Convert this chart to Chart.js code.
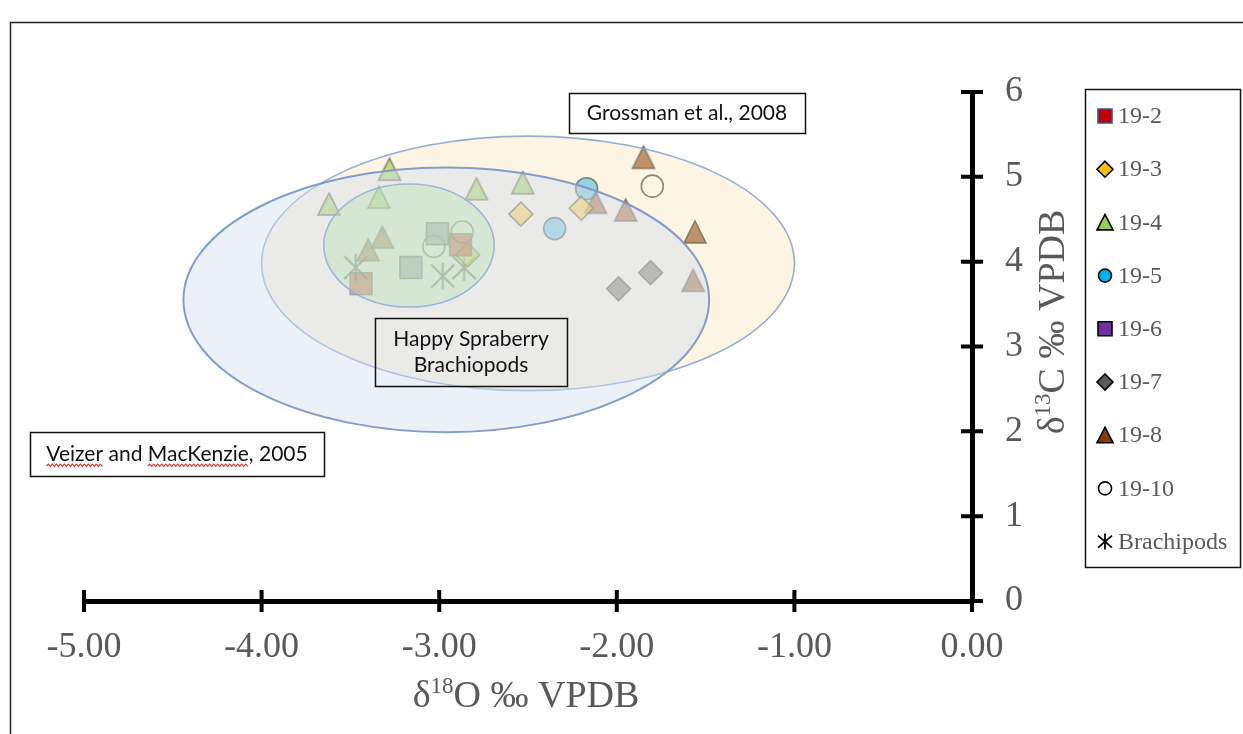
<!DOCTYPE html>
<html>
<head>
<meta charset="utf-8">
<script src="https://cdn.jsdelivr.net/npm/chart.js@4.4.0/dist/chart.umd.min.js"></script>
<style>
  html, body { margin: 0; padding: 0; background: #ffffff; }
  #wrap { width: 1243px; height: 734px; position: relative; }
</style>
</head>
<body>
<div id="wrap"><canvas id="chart" width="1243" height="734"></canvas></div>
<script>
// ---- sample values: δ18O and δ13C (‰ VPDB) per series ----
const o18_19_2 = [-3.44, -2.88];
const c13_19_2 = [3.74, 4.20];
const o18_19_3 = [-2.54, -2.20, -2.84];
const c13_19_3 = [4.56, 4.63, 4.08];
const o18_19_4 = [-3.28, -3.62, -3.34, -2.79, -2.53];
const c13_19_4 = [5.09, 4.68, 4.76, 4.86, 4.93];
const o18_19_5 = [-2.17, -2.35];
const c13_19_5 = [4.86, 4.39];
const o18_19_6 = [-3.01, -3.16];
const c13_19_6 = [4.33, 3.93];
const o18_19_7 = [-1.99, -1.81];
const c13_19_7 = [3.68, 3.87];
const o18_19_8 = [-1.85, -1.56, -2.12, -1.95, -1.57, -3.32, -3.40];
const c13_19_8 = [5.23, 4.35, 4.70, 4.61, 3.78, 4.29, 4.14];
const o18_19_10 = [-1.80, -2.87, -3.03];
const c13_19_10 = [4.89, 4.35, 4.18];
const o18_brach = [-3.47, -2.98, -2.86];
const c13_brach = [3.93, 3.83, 3.93];

const seriesLabels = ['19-2', '19-3', '19-4', '19-5', '19-6', '19-7', '19-8', '19-10', 'Brachipods'];
const seriesO18 = [o18_19_2, o18_19_3, o18_19_4, o18_19_5, o18_19_6, o18_19_7, o18_19_8, o18_19_10, o18_brach];
const seriesC13 = [c13_19_2, c13_19_3, c13_19_4, c13_19_5, c13_19_6, c13_19_7, c13_19_8, c13_19_10, c13_brach];

// axis ranges / ticks
const xTicks = [-5, -4, -3, -2, -1, 0];
const yTicks = [0, 1, 2, 3, 4, 5, 6];

// reference fields (ellipses): centre and half-axes in ‰, drawn in this order
const fieldNames = ['Grossman et al., 2008', 'Veizer and MacKenzie, 2005', 'Happy Spraberry Brachiopods'];
const fieldCenterO = [-2.50, -2.96, -3.17];
const fieldCenterC = [3.98, 3.55, 4.19];
const fieldHalfO = [1.50, 1.48, 0.48];
const fieldHalfC = [1.50, 1.56, 0.725];

// ---- styling ----
const SERIF = '"Liberation Serif", "Times New Roman", serif';
const SANS = 'Lato, "Open Sans", sans-serif';
const AXIS_TEXT = '#595959';

const markerKind = ['square', 'diamond', 'triangle', 'circle', 'square', 'diamond', 'triangle', 'circle', 'asterisk'];
const legendFill = ['#c00000', '#ffc000', '#92d050', '#00b0f0', '#7030a0', '#595959', '#843c0c', '#ffffff', '#000000'];
const legendStroke = ['#2f5597', '#000', '#000', '#000', '#000', '#000', '#000', '#000', '#000'];
const plotFill = ['rgba(192,0,0,0.7)', 'rgba(255,192,0,0.6)', 'rgba(146,208,80,0.75)', 'rgba(0,176,240,0.55)',
                  'rgba(120,112,150,0.7)', 'rgba(89,89,89,0.7)', 'rgba(132,60,12,0.68)', 'rgba(255,255,255,0)', 'rgba(0,0,0,0)'];
const plotStroke = 'rgba(60,60,60,0.75)';

const fieldFill = ['rgba(243,215,147,0.25)', 'rgba(212,225,240,0.45)', 'rgba(182,226,178,0.40)'];
const fieldStroke = ['rgba(140,165,205,0.9)', 'rgba(125,152,196,0.95)', 'rgba(150,176,215,0.9)'];

function triangleImage(fill, stroke, s) {
  const pad = 2, c = document.createElement('canvas');
  c.width = s + pad * 2; c.height = s + pad * 2;
  const g = c.getContext('2d');
  g.beginPath();
  g.moveTo(pad + s / 2, pad);
  g.lineTo(pad + s, pad + s);
  g.lineTo(pad, pad + s);
  g.closePath();
  g.fillStyle = fill; g.fill();
  g.lineWidth = 1.6; g.strokeStyle = stroke; g.stroke();
  return c;
}
function asteriskImage(stroke, w, h, lw) {
  const c = document.createElement('canvas');
  c.width = w + 2; c.height = h + 2;
  const g = c.getContext('2d');
  g.strokeStyle = stroke; g.lineWidth = lw; g.lineCap = 'butt';
  const inset = (h - w) / 2;
  g.beginPath();
  g.moveTo(1, 1 + inset); g.lineTo(1 + w, 1 + inset + w);
  g.moveTo(1 + w, 1 + inset); g.lineTo(1, 1 + inset + w);
  g.moveTo(1 + w / 2, 1); g.lineTo(1 + w / 2, 1 + h);
  g.stroke();
  return c;
}

function pointStyleFor(i) {
  switch (markerKind[i]) {
    case 'square': return { style: 'rect', r: 15.5 };
    case 'diamond': return { style: 'rectRot', r: 12 };
    case 'circle': return { style: 'circle', r: 11 };
    case 'triangle': return { style: triangleImage(plotFill[i], plotStroke, 22), r: 12 };
    default: return { style: asteriskImage('rgba(40,40,40,0.8)', 23, 27, 2), r: 12 };
  }
}

const datasets = seriesLabels.map((label, i) => {
  const ps = pointStyleFor(i);
  return {
    label,
    data: seriesO18[i].map((o, k) => ({ x: o, y: seriesC13[i][k] })),
    pointStyle: ps.style,
    pointRadius: ps.r,
    pointHoverRadius: ps.r,
    backgroundColor: plotFill[i],
    borderColor: plotStroke,
    borderWidth: 1.6,
    showLine: false
  };
});

// ---- drawing helpers for the overlay ----
function drawLegendMarker(ctx, i, x, y) {
  ctx.save();
  ctx.fillStyle = legendFill[i];
  ctx.strokeStyle = legendStroke[i];
  ctx.lineWidth = 1.6;
  ctx.beginPath();
  switch (markerKind[i]) {
    case 'square': ctx.rect(x - 7, y - 7, 14, 14); break;
    case 'diamond': ctx.moveTo(x, y - 8); ctx.lineTo(x + 8, y); ctx.lineTo(x, y + 8); ctx.lineTo(x - 8, y); ctx.closePath(); break;
    case 'triangle': ctx.moveTo(x, y - 8); ctx.lineTo(x + 8, y + 7.5); ctx.lineTo(x - 8, y + 7.5); ctx.closePath(); break;
    case 'circle': ctx.arc(x, y, 6.5, 0, Math.PI * 2); break;
    default:
      ctx.moveTo(x - 7, y - 6); ctx.lineTo(x + 7, y + 6);
      ctx.moveTo(x + 7, y - 6); ctx.lineTo(x - 7, y + 6);
      ctx.moveTo(x, y - 8); ctx.lineTo(x, y + 8);
      ctx.lineWidth = 1.8; ctx.stroke(); ctx.restore(); return;
  }
  ctx.fill(); ctx.stroke();
  ctx.restore();
}

function drawIsotopeTitle(ctx, cx, cy, angle, sup, rest) {
  const big = '38px ' + SERIF, small = '23px ' + SERIF;
  ctx.save();
  ctx.translate(cx, cy); ctx.rotate(angle);
  ctx.fillStyle = AXIS_TEXT; ctx.textBaseline = 'alphabetic'; ctx.textAlign = 'left';
  ctx.font = big; const w1 = ctx.measureText('δ').width; const w3 = ctx.measureText(rest).width;
  ctx.font = small; const w2 = ctx.measureText(sup).width;
  let x0 = -(w1 + w2 + w3) / 2;
  const base = 13;
  ctx.font = big; ctx.fillText('δ', x0, base); x0 += w1;
  ctx.font = small; ctx.fillText(sup, x0, base - 14); x0 += w2;
  ctx.font = big; ctx.fillText(rest, x0, base);
  ctx.restore();
}

function squiggle(ctx, x0, x1, y) {
  ctx.save();
  ctx.strokeStyle = '#e8332a'; ctx.lineWidth = 1.2;
  ctx.beginPath();
  let up = true;
  ctx.moveTo(x0, y);
  for (let x = x0 + 2; x <= x1; x += 2) { ctx.lineTo(x, up ? y - 1.8 : y + 0.4); up = !up; }
  ctx.stroke();
  ctx.restore();
}

const noteBoxes = [
  { lines: ['Grossman et al., 2008'], x: 569, y: 93, w: 236, h: 40, fill: '#ffffff' },
  { lines: ['Happy Spraberry', 'Brachiopods'], x: 375, y: 318, w: 192, h: 68, fill: null },
  { lines: ['Veizer and MacKenzie, 2005'], x: 30, y: 432, w: 294, h: 44, fill: '#ffffff', flagged: ['Veizer', 'MacKenzie'] }
];

const overlay = {
  id: 'isotopeOverlay',
  afterDatasetsDraw(chart) {
    const { ctx, scales: { x, y } } = chart;
    ctx.save();
    fieldNames.forEach((name, i) => {
      const cx = x.getPixelForValue(fieldCenterO[i]);
      const cy = y.getPixelForValue(fieldCenterC[i]);
      const rx = Math.abs(x.getPixelForValue(fieldCenterO[i] + fieldHalfO[i]) - cx);
      const ry = Math.abs(y.getPixelForValue(fieldCenterC[i] + fieldHalfC[i]) - cy);
      ctx.beginPath();
      ctx.ellipse(cx, cy, rx, ry, 0, 0, Math.PI * 2);
      ctx.fillStyle = fieldFill[i]; ctx.fill();
      ctx.lineWidth = i === 1 ? 2 : 1.6; ctx.strokeStyle = fieldStroke[i]; ctx.stroke();
    });
    ctx.restore();
  },
  afterDraw(chart) {
    const { ctx, chartArea: area, scales: { x, y } } = chart;
    ctx.save();
    // tick crosses on both axes
    ctx.strokeStyle = '#000'; ctx.lineWidth = 4; ctx.lineCap = 'butt';
    ctx.beginPath();
    xTicks.forEach(v => { const px = x.getPixelForValue(v); ctx.moveTo(px, area.bottom - 11); ctx.lineTo(px, area.bottom + 11); });
    yTicks.forEach(v => { const py = y.getPixelForValue(v); ctx.moveTo(area.right - 11, py); ctx.lineTo(area.right + 11, py); });
    ctx.stroke();

    // axis titles
    drawIsotopeTitle(ctx, (area.left + area.right) / 2 - 2, 694, 0, '18', 'O ‰ VPDB');
    drawIsotopeTitle(ctx, 1051, 322, -Math.PI / 2, '13', 'C ‰ VPDB');

    // note boxes
    noteBoxes.forEach(b => {
      if (b.fill) { ctx.fillStyle = b.fill; ctx.fillRect(b.x, b.y, b.w, b.h); }
      ctx.strokeStyle = '#111'; ctx.lineWidth = 1.5;
      ctx.strokeRect(b.x + 0.5, b.y + 0.5, b.w, b.h);
      ctx.font = '21px ' + SANS; ctx.fillStyle = '#111';
      ctx.textAlign = 'center'; ctx.textBaseline = 'middle';
      const lh = 26, top = b.y + b.h / 2 - (b.lines.length - 1) * lh / 2;
      b.lines.forEach((t, k) => ctx.fillText(t, b.x + b.w / 2, top + k * lh));
      if (b.flagged) {
        const t = b.lines[0];
        const full = ctx.measureText(t).width;
        const start = b.x + b.w / 2 - full / 2;
        b.flagged.forEach(word => {
          const idx = t.indexOf(word);
          const a = start + ctx.measureText(t.slice(0, idx)).width;
          const e = a + ctx.measureText(word).width;
          squiggle(ctx, a, e, top + 12);
        });
      }
    });

    // legend
    const lx = 1085, ly = 89, lw = 155, lh = 478;
    ctx.fillStyle = '#ffffff'; ctx.fillRect(lx, ly, lw, lh);
    ctx.strokeStyle = '#111'; ctx.lineWidth = 1.5; ctx.strokeRect(lx + 0.5, ly + 0.5, lw, lh);
    ctx.font = '24px ' + SERIF; ctx.textAlign = 'left'; ctx.textBaseline = 'middle';
    chart.data.datasets.forEach((ds, i) => {
      const cy = 116 + i * 53.2;
      drawLegendMarker(ctx, i, 1105, cy);
      ctx.fillStyle = AXIS_TEXT;
      ctx.fillText(ds.label, 1118, cy + 1);
    });

    // outer frame
    ctx.strokeStyle = '#222'; ctx.lineWidth = 1.5;
    ctx.beginPath();
    ctx.moveTo(1260, 22.5); ctx.lineTo(10.5, 22.5); ctx.lineTo(10.5, 760);
    ctx.stroke();
    ctx.restore();
  }
};

new Chart(document.getElementById('chart'), {
  type: 'scatter',
  data: { datasets },
  options: {
    responsive: false,
    animation: false,
    devicePixelRatio: 1,
    layout: { padding: { left: 84, top: 92, right: 0, bottom: 0 } },
    plugins: { legend: { display: false }, tooltip: { enabled: false } },
    scales: {
      x: {
        type: 'linear', min: -5, max: 0, position: 'bottom',
        afterFit: s => { s.height = 133; },
        afterBuildTicks: s => { s.ticks = xTicks.map(v => ({ value: v })); },
        ticks: {
          callback: v => v.toFixed(2), maxRotation: 0, autoSkip: false,
          font: { family: SERIF, size: 36 }, color: AXIS_TEXT, padding: 25
        },
        grid: { display: false, drawTicks: false },
        border: { display: true, color: '#000', width: 5 }
      },
      y: {
        type: 'linear', min: 0, max: 6, position: 'right',
        afterFit: s => { s.width = 271; },
        afterBuildTicks: s => { s.ticks = yTicks.map(v => ({ value: v })); },
        ticks: {
          callback: v => String(v), autoSkip: false,
          font: { family: SERIF, size: 36 }, color: AXIS_TEXT, padding: 33
        },
        grid: { display: false, drawTicks: false },
        border: { display: true, color: '#000', width: 5 }
      }
    }
  },
  plugins: [overlay]
});
</script>
</body>
</html>
